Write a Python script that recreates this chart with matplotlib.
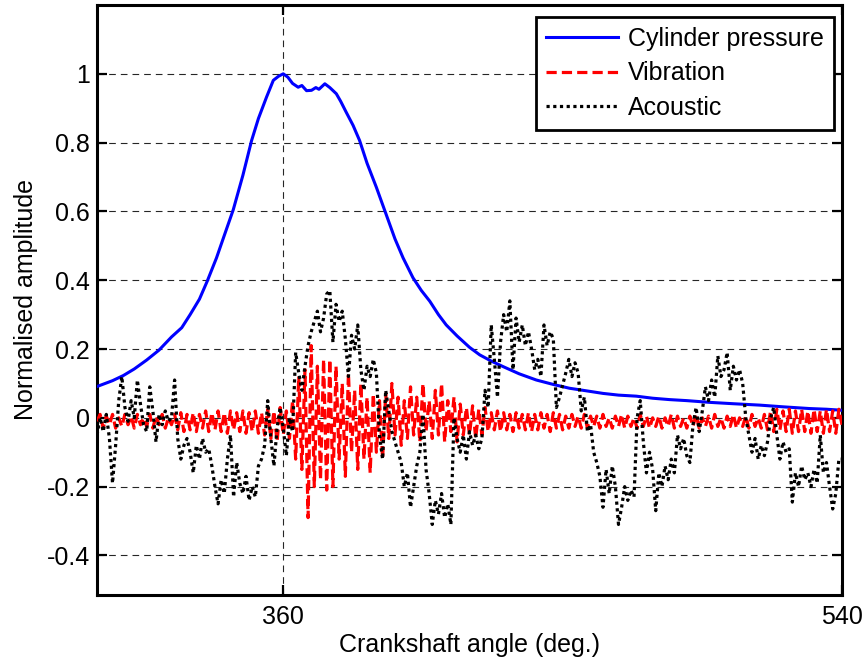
import numpy as np
import matplotlib
matplotlib.use("Agg")
import matplotlib.pyplot as plt

plt.rcParams['font.family'] = ['Liberation Sans', 'DejaVu Sans']

# ---------------- data ----------------
pressure_angle = [300, 305, 308.5, 312, 316, 320, 324, 327.3, 330, 333, 335.5, 338.5, 341,
                  343.9, 347, 349.8, 352, 354.6, 356.8, 358.5, 360, 361.5, 363, 364.8, 366,
                  367.5, 369.1, 370.5, 371.5, 373.4, 375, 377.1, 378.5, 380.3, 382.5, 384.6,
                  387, 390, 393.2, 396, 398.6, 401.8, 404.5, 407.2, 410, 412.5, 416, 420,
                  423.3, 427, 430.8, 436, 441.5, 447, 452.2, 458, 463, 468, 473.7, 479,
                  484.4, 490, 497.3, 505, 513.4, 521, 529.5, 535, 540]
pressure = [0.091, 0.108, 0.123, 0.142, 0.168, 0.197, 0.235, 0.262, 0.300, 0.345, 0.397,
            0.465, 0.530, 0.605, 0.705, 0.806, 0.870, 0.932, 0.981, 0.993, 1.000, 0.990,
            0.972, 0.961, 0.966, 0.951, 0.952, 0.960, 0.955, 0.971, 0.960, 0.942, 0.920,
            0.888, 0.850, 0.806, 0.740, 0.670, 0.590, 0.520, 0.465, 0.407, 0.370, 0.339,
            0.300, 0.270, 0.238, 0.205, 0.183, 0.165, 0.149, 0.128, 0.110, 0.097, 0.086,
            0.078, 0.071, 0.066, 0.063, 0.057, 0.053, 0.050, 0.045, 0.041, 0.037, 0.032,
            0.027, 0.025, 0.022]

# angles 300..540 step 1 deg
signal_angle = list(range(300, 541))

vibration = [
    -0.01, 0.01, -0.03, 0.005, -0.02, 0.01, -0.03, 0.0, -0.025, 0.01,
    -0.02, 0.005, -0.03, 0.01, -0.02, 0.0, -0.025, 0.01, -0.03, 0.005,
    -0.02, 0.01, -0.03, 0.0, -0.02, 0.01, -0.035, 0.015, -0.04, 0.01,
    -0.035, 0.015, -0.04, 0.01, -0.03, 0.02, -0.04, 0.015, -0.035, 0.02,
    -0.04, 0.015, -0.045, 0.02, -0.035, 0.015, -0.04, 0.02, -0.045, 0.015,
    -0.04, 0.02, -0.045, 0.015, -0.05, 0.025, -0.06, 0.02, -0.07, 0.03,
    -0.05, 0.02, -0.06, 0.05, -0.12, 0.12, -0.15, 0.14, -0.29, 0.21,
    -0.2, 0.15, -0.18, 0.17, -0.21, 0.17, -0.2, 0.15, -0.12, 0.1,
    -0.17, 0.13, -0.1, 0.08, -0.15, 0.1, -0.12, 0.06, -0.16, 0.07,
    -0.1, 0.05, -0.12, 0.07, -0.06, 0.1, -0.05, 0.06, -0.08, 0.05,
    -0.06, 0.09, -0.05, 0.06, -0.07, 0.1, -0.04, 0.05, -0.06, 0.08,
    -0.05, 0.1, -0.07, 0.05, -0.04, 0.06, -0.07, 0.04, -0.05, 0.03,
    -0.05, 0.035, -0.06, 0.025, -0.05, 0.03, -0.04, 0.015, -0.035, 0.02,
    -0.04, 0.015, -0.035, 0.01, -0.04, 0.015, -0.03, 0.01, -0.035, 0.015,
    -0.04, 0.01, -0.035, 0.015, -0.03, 0.01, -0.04, 0.015, -0.03, 0.01,
    -0.035, 0.005, -0.03, 0.01, -0.025, 0.005, -0.03, 0.01, -0.03, 0.005,
    -0.025, 0.005, -0.03, 0.01, -0.025, 0.0, -0.03, 0.005, -0.025, 0.01,
    -0.03, 0.005, -0.025, 0.0, -0.03, 0.01, -0.025, 0.005, -0.03, 0.0,
    -0.025, 0.005, -0.03, 0.0, -0.025, 0.01, -0.03, 0.005, -0.025, 0.0,
    -0.03, 0.005, -0.025, 0.01, -0.03, 0.0, -0.025, 0.005, -0.03, 0.01,
    -0.025, 0.0, -0.03, 0.005, -0.025, 0.01, -0.03, 0.0, -0.025, 0.005,
    -0.03, 0.01, -0.025, 0.0, -0.03, 0.01, -0.035, 0.02, -0.04, 0.025,
    -0.035, 0.02, -0.04, 0.025, -0.045, 0.02, -0.04, 0.025, -0.04, 0.02,
    -0.045, 0.025, -0.04, 0.02, -0.045, 0.025, -0.04, 0.02, -0.045, 0.025,
    -0.02]

acoustic = [
    -0.05, 0.0, -0.04, 0.01, -0.06, -0.19, -0.08, 0.05, 0.12, 0.03,
    -0.01, 0.05, 0.0, 0.11, 0.04, -0.02, -0.04, 0.09, 0.02, -0.07,
    0.01, -0.02, 0.02, -0.01, 0.0, 0.11, -0.06, -0.12, -0.08, -0.06,
    -0.1, -0.16, -0.08, -0.12, -0.06, -0.1, -0.09, -0.14, -0.2, -0.25,
    -0.18, -0.22, -0.12, -0.05, -0.23, -0.13, -0.19, -0.22, -0.17, -0.24,
    -0.2, -0.23, -0.14, -0.12, -0.08, 0.05, -0.06, -0.14, -0.03, 0.03,
    -0.03, -0.11, 0.0, -0.04, 0.19, 0.13, 0.08, 0.15, 0.21, 0.25,
    0.28, 0.31, 0.25, 0.29, 0.36, 0.37, 0.22, 0.33, 0.28, 0.31,
    0.23, 0.12, 0.24, 0.2, 0.27, 0.14, 0.08, 0.15, 0.12, 0.17,
    0.13, -0.05, -0.12, 0.08, 0.02, -0.04, -0.07, -0.1, -0.13, -0.2,
    -0.16, -0.26, -0.2, -0.14, -0.1, 0.01, -0.15, -0.22, -0.31, -0.24,
    -0.28, -0.22, -0.29, -0.25, -0.31, 0.0, -0.06, -0.1, -0.05, -0.12,
    -0.04, -0.08, -0.05, -0.09, -0.06, 0.08, 0.03, 0.27, 0.17, 0.06,
    0.22, 0.3, 0.25, 0.34, 0.14, 0.29, 0.22, 0.27, 0.21, 0.25,
    0.2, 0.14, 0.17, 0.12, 0.27, 0.21, 0.25, 0.23, 0.03, 0.06,
    0.095, 0.13, 0.17, 0.12, 0.16, 0.13, 0.02, 0.06, -0.04, -0.02,
    -0.1, -0.13, -0.17, -0.26, -0.15, -0.22, -0.14, -0.2, -0.31, -0.26,
    -0.2, -0.24, -0.21, -0.23, 0.0, 0.05, -0.07, -0.16, -0.1, -0.15,
    -0.27, -0.16, -0.2, -0.14, -0.18, -0.12, -0.16, -0.05, -0.09, -0.06,
    -0.11, -0.13, -0.02, 0.03, -0.04, 0.02, 0.09, 0.05, 0.11, 0.06,
    0.18, 0.12, 0.14, 0.19, 0.08, 0.15, 0.11, 0.14, 0.1, 0.0,
    -0.05, -0.1, -0.06, -0.12, -0.08, -0.11, -0.07, 0.0, 0.03, -0.05,
    -0.12, -0.07, -0.1, -0.09, -0.245, -0.16, -0.2, -0.14, -0.18, -0.16,
    -0.2, -0.15, -0.19, -0.05, -0.16, -0.13, -0.2, -0.265, -0.22, -0.12,
    -0.12]

labels = ["Cylinder pressure", "Vibration", "Acoustic"]
x_ticks = [360, 540]
y_ticks = [-0.4, -0.2, 0, 0.2, 0.4, 0.6, 0.8, 1]
y_tick_labels = ["-0.4", "-0.2", "0", "0.2", "0.4", "0.6", "0.8", "1"]

# ---------------- figure ----------------
fig = plt.figure(figsize=(8.65, 6.62), dpi=100)
ax = fig.add_axes([97 / 865, 1 - 595 / 662, (842 - 97) / 865, (595 - 5) / 662])

ax.plot(pressure_angle, pressure, color=(0, 0, 1), lw=2.2, label=labels[0], zorder=3)
ax.plot(signal_angle, vibration, color=(1, 0, 0), lw=2.3, ls=(0, (3.2, 1.6)), label=labels[1], zorder=4)
ax.plot(signal_angle, acoustic, color='black', lw=2.3, ls=(0, (1, 1.1)), label=labels[2], zorder=5)

ax.set_xlim(300, 540)
ax.set_ylim(-0.515, 1.2)
ax.set_xticks(x_ticks)
ax.set_yticks(y_ticks)
ax.set_yticklabels(y_tick_labels)

ax.grid(True, color='0.15', lw=0.8, ls=(0, (6, 4.5)))
ax.set_axisbelow(True)

for s in ax.spines.values():
    s.set_linewidth(2.2)
ax.tick_params(direction='in', length=7, width=1.6, labelsize=18,
               top=True, right=True, pad=7)
ax.tick_params(axis='y', pad=5)

ax.set_xlabel("Crankshaft angle (deg.)", fontsize=18, labelpad=3)
ax.set_ylabel("Normalised amplitude", fontsize=18, labelpad=6)

leg = ax.legend(loc='upper right', bbox_to_anchor=((834 - 97) / 745, 1 - (17 - 5) / 590),
                borderaxespad=0, fontsize=18, frameon=True, fancybox=False,
                handlelength=2.9, handletextpad=0.4, labelspacing=0.42, borderpad=0.4)
leg.get_frame().set_edgecolor('black')
leg.get_frame().set_linewidth(2.0)
leg.get_frame().set_alpha(1)

fig.savefig("out.png", dpi=100)
